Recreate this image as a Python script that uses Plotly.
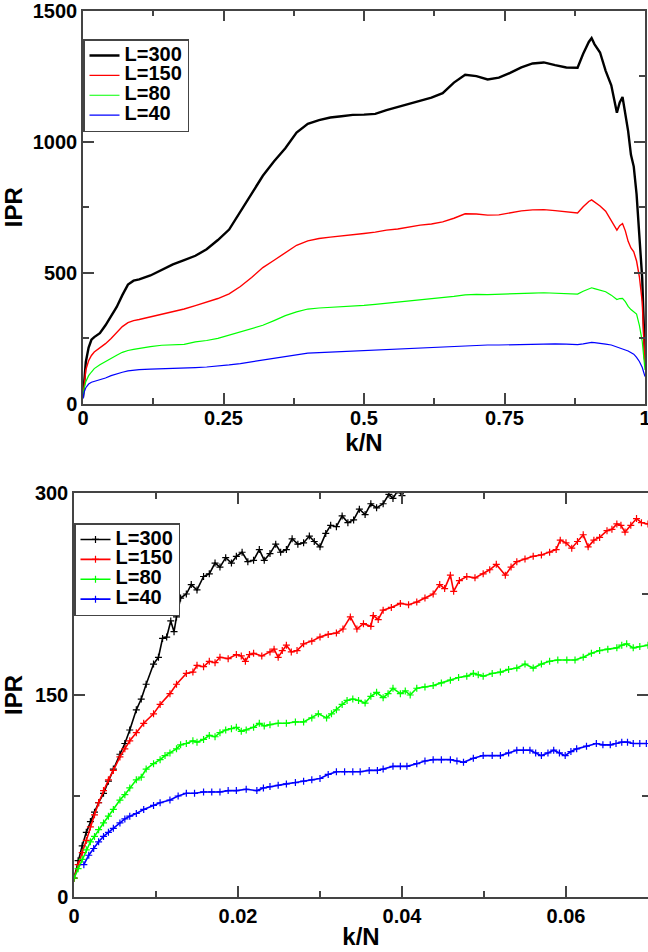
import plotly.graph_objects as go

# ---------------- full spectrum: IPR vs k/N ----------------
kn_full = [0, 0.002, 0.005, 0.01, 0.015, 0.02, 0.03, 0.04, 0.05, 0.06, 0.07, 0.08, 0.09, 0.10,
           0.12, 0.14, 0.16, 0.18, 0.20, 0.22, 0.24, 0.26, 0.28, 0.30, 0.32, 0.34, 0.36, 0.38,
           0.40, 0.42, 0.44, 0.46, 0.48, 0.50, 0.52, 0.54, 0.56, 0.58, 0.60, 0.62, 0.64, 0.66,
           0.68, 0.70, 0.72, 0.74, 0.76, 0.78, 0.80, 0.82, 0.84, 0.86, 0.88, 0.89, 0.90, 0.905,
           0.91, 0.92, 0.93, 0.94, 0.95, 0.955, 0.96, 0.965, 0.97, 0.975, 0.98, 0.985, 0.99,
           0.995, 1.0]

ipr_L300 = [25, 90, 160, 215, 245, 255, 270, 300, 335, 370, 415, 455, 470, 475,
            490, 512, 532, 548, 565, 590, 625, 665, 735, 805, 870, 925, 975, 1035,
            1068, 1082, 1092, 1097, 1102, 1103, 1106, 1120, 1132, 1145, 1158, 1168, 1185, 1225,
            1255, 1250, 1237, 1244, 1262, 1283, 1298, 1302, 1292, 1283, 1282, 1335, 1380, 1395,
            1372, 1340, 1270, 1215, 1110, 1150, 1170, 1110, 1040, 950, 905, 800, 640,
            480, 170]

ipr_L150 = [25, 80, 130, 165, 185, 198, 213, 230, 250, 272, 295, 310, 318, 322,
            332, 344, 352, 362, 375, 388, 402, 420, 448, 482, 520, 548, 578, 605,
            622, 631, 636, 640, 644, 650, 655, 663, 667, 675, 682, 686, 694, 708,
            725, 724, 720, 721, 728, 736, 740, 741, 737, 732, 728, 752, 772, 778,
            770, 755, 735, 700, 663, 680, 688, 660, 620, 595, 580, 545, 485,
            390, 150]

ipr_L80 = [25, 60, 85, 108, 122, 135, 150, 163, 176, 186, 197, 204, 208, 212,
           219, 224, 225, 227, 237, 242, 250, 262, 275, 288, 300, 318, 337, 351,
           362, 366, 368, 370, 373, 376, 380, 384, 388, 393, 397, 401, 405, 410,
           416, 418, 417, 419, 421, 422, 423, 424, 423, 421, 419, 430, 440, 443,
           440, 434, 428, 415, 398, 402, 403, 390, 372, 360, 352, 343, 300,
           240, 130]

ipr_L40 = [20, 45, 62, 76, 83, 86, 91, 99, 108, 115, 121, 126, 129, 131,
           133, 134, 135, 137, 139, 141, 144, 149, 154, 161, 168, 175, 182, 189,
           194, 196, 198, 200, 201, 203, 205, 207, 210, 212, 214, 216, 217, 219,
           223, 225, 225, 225, 226, 227, 228, 229, 229, 228, 226, 229, 233, 235,
           234, 232, 228, 225, 218, 215, 212, 206, 202, 196, 190, 178, 162,
           140, 105]

# ---------------- low-k region ----------------
kn_L300 = [0.0000, 0.0005, 0.0010, 0.0015, 0.0020, 0.0025, 0.0030, 0.0036, 0.0042, 0.0048,
           0.0056, 0.0062, 0.0068, 0.0076, 0.0082, 0.0088, 0.0097, 0.0103, 0.0108, 0.0113,
           0.0118, 0.0122, 0.0125, 0.0130, 0.0137, 0.0143, 0.0150, 0.0158, 0.0165, 0.0172,
           0.0178, 0.0185, 0.0192, 0.0198, 0.0205, 0.0212, 0.0219, 0.0226, 0.0232, 0.0239,
           0.0246, 0.0252, 0.0259, 0.0266, 0.0273, 0.0280, 0.0287, 0.0293, 0.0300, 0.0307,
           0.0313, 0.0320, 0.0327, 0.0334, 0.0341, 0.0348, 0.0355, 0.0362, 0.0369, 0.0377,
           0.0384, 0.0389, 0.0395, 0.0400, 0.0405]
low_L300 = [14, 27, 38, 48, 56, 63, 70, 77, 86, 95,
            106, 114, 124, 139, 147, 158, 173, 178, 192, 193,
            205, 197, 208, 222, 225, 232, 228, 238, 240, 248,
            245, 252, 248, 253, 256, 249, 250, 258, 250, 255,
            262, 256, 258, 266, 262, 263, 268, 264, 260, 270,
            276, 275, 283, 278, 280, 288, 284, 292, 289, 292,
            299, 296, 302, 298, 305]

kn_L150 = [0.0000, 0.0005, 0.0010, 0.0015, 0.0020, 0.0025, 0.0030, 0.0036, 0.0042, 0.0048,
           0.0056, 0.0062, 0.0068, 0.0076, 0.0085, 0.0097, 0.0105, 0.0117, 0.0125, 0.0137,
           0.0145, 0.0150, 0.0158, 0.0165, 0.0172, 0.0178, 0.0188, 0.0198, 0.0204, 0.0209,
           0.0214, 0.0219, 0.0229, 0.0239, 0.0244, 0.0249, 0.0254, 0.0259, 0.0265, 0.0272,
           0.0280, 0.0290, 0.0300, 0.0310, 0.0320, 0.0328, 0.0337, 0.0345, 0.0353, 0.0362,
           0.0365, 0.0371, 0.0377, 0.0387, 0.0398, 0.0408, 0.0418, 0.0428, 0.0438, 0.0446,
           0.0452, 0.0459, 0.0463, 0.0470, 0.0479, 0.0489, 0.0499, 0.0507, 0.0515, 0.0526,
           0.0533, 0.0540, 0.0550, 0.0560, 0.0570, 0.0580, 0.0588, 0.0593, 0.0600, 0.0607,
           0.0614, 0.0621, 0.0627, 0.0634, 0.0641, 0.0650, 0.0656, 0.0662, 0.0667, 0.0672,
           0.0679, 0.0686, 0.0692, 0.0700]
low_L150 = [14, 24, 33, 42, 52, 61, 70, 79, 87, 94,
            104, 110, 116, 122, 129, 136, 143, 151, 158, 166,
            167, 172, 171, 175, 174, 178, 177, 180, 179, 175,
            180, 181, 179, 182, 184, 178, 183, 187, 182, 183,
            188, 190, 193, 195, 196, 199, 208, 199, 203, 201,
            209, 206, 213, 215, 218, 217, 219, 222, 225, 232,
            229, 239, 227, 235, 238, 237, 240, 243, 247, 239,
            245, 249, 251, 253, 254, 256, 258, 265, 263, 259,
            264, 269, 260, 265, 267, 272, 273, 277, 276, 271,
            276, 281, 278, 277]

kn_L80 = [0.0000, 0.0005, 0.0010, 0.0015, 0.0020, 0.0025, 0.0030, 0.0036, 0.0042, 0.0048,
          0.0056, 0.0062, 0.0068, 0.0076, 0.0082, 0.0088, 0.0097, 0.0105, 0.0111, 0.0117,
          0.0125, 0.0130, 0.0137, 0.0145, 0.0150, 0.0158, 0.0165, 0.0172, 0.0178, 0.0185,
          0.0192, 0.0198, 0.0204, 0.0210, 0.0219, 0.0226, 0.0232, 0.0239, 0.0249, 0.0259,
          0.0270, 0.0280, 0.0290, 0.0298, 0.0308, 0.0314, 0.0320, 0.0327, 0.0333, 0.0340,
          0.0347, 0.0355, 0.0362, 0.0369, 0.0377, 0.0383, 0.0389, 0.0398, 0.0404, 0.0410,
          0.0418, 0.0428, 0.0438, 0.0448, 0.0459, 0.0469, 0.0479, 0.0487, 0.0493, 0.0499,
          0.0510, 0.0520, 0.0530, 0.0540, 0.0550, 0.0560, 0.0570, 0.0580, 0.0590, 0.0601,
          0.0611, 0.0621, 0.0631, 0.0641, 0.0651, 0.0662, 0.0668, 0.0674, 0.0682, 0.0690,
          0.0700]
low_L80 = [14, 21, 28, 35, 41, 45, 50, 55, 60, 65,
           72, 76, 81, 87, 89, 95, 99, 102, 105, 107,
           110, 113, 114, 116, 115, 117, 120, 119, 122, 124,
           125, 126, 123, 124, 126, 129, 127, 128, 129, 129,
           130, 130, 133, 136, 133, 136, 139, 143, 146, 147,
           146, 144, 149, 152, 148, 151, 155, 151, 153, 150,
           155, 156, 157, 159, 161, 163, 164, 166, 165, 164,
           166, 167, 169, 170, 173, 170, 173, 175, 176, 176,
           176, 178, 181, 183, 184, 185, 187, 188, 185, 186,
           187]

kn_L40 = [0.0012, 0.0018, 0.0024, 0.0030, 0.0036, 0.0042, 0.0048, 0.0056, 0.0062, 0.0068,
          0.0076, 0.0085, 0.0097, 0.0105, 0.0117, 0.0127, 0.0137, 0.0147, 0.0158, 0.0168,
          0.0178, 0.0188, 0.0198, 0.0210, 0.0223, 0.0231, 0.0239, 0.0249, 0.0259, 0.0270,
          0.0280, 0.0290, 0.0300, 0.0310, 0.0320, 0.0330, 0.0340, 0.0349, 0.0360, 0.0370,
          0.0377, 0.0389, 0.0398, 0.0406, 0.0418, 0.0428, 0.0438, 0.0448, 0.0459, 0.0467,
          0.0475, 0.0487, 0.0499, 0.0510, 0.0520, 0.0530, 0.0540, 0.0548, 0.0556, 0.0563,
          0.0570, 0.0578, 0.0585, 0.0592, 0.0599, 0.0606, 0.0613, 0.0625, 0.0637, 0.0645,
          0.0654, 0.0661, 0.0668, 0.0675, 0.0682, 0.0690, 0.0698]
low_L40 = [24, 31, 36, 41, 45, 48, 51, 55, 58, 60,
           62, 65, 68, 70, 72, 75, 77, 77, 78, 78,
           78, 79, 79, 80, 79, 81, 82, 83, 84, 85,
           86, 87, 88, 91, 93, 93, 93, 93, 94, 94,
           95, 97, 97, 97, 99, 101, 102, 102, 102, 101,
           100, 103, 105, 105, 105, 107, 109, 109, 109, 107,
           105, 107, 109, 107, 105, 108, 110, 112, 114, 113,
           113, 114, 115, 115, 114, 114, 114]

labels = ["L=300", "L=150", "L=80", "L=40"]
colors = ["#000000", "#ff0000", "#00ff00", "#0000ff"]

FONT = "Liberation Sans, Arial, Helvetica, sans-serif"
W, H = 648, 952
LEG_TEXT = 20  # rendered size of the legend entries


def legend_name(text):
    return f'<span style="font-size:{LEG_TEXT}px">{text}</span>'


fig = go.Figure()

top_series = [ipr_L300, ipr_L150, ipr_L80, ipr_L40]
top_widths = [2.4, 1.4, 1.2, 1.2]
for lab, col, ys, lw in zip(labels, colors, top_series, top_widths):
    fig.add_trace(go.Scatter(
        x=kn_full, y=ys, mode="lines", name=legend_name(lab),
        line=dict(color=col, width=lw),
        xaxis="x", yaxis="y", legend="legend",
    ))

low_x = [kn_L300, kn_L150, kn_L80, kn_L40]
low_y = [low_L300, low_L150, low_L80, low_L40]
for lab, col, xs, ys in zip(labels, colors, low_x, low_y):
    fig.add_trace(go.Scatter(
        x=xs, y=ys, mode="lines+markers", name=legend_name(lab),
        line=dict(color=col, width=1.6),
        marker=dict(symbol="cross-thin", size=5, line=dict(width=1.2, color=col)),
        xaxis="x2", yaxis="y2", legend="legend2",
    ))

AX = "#444444"


def axis(rng, dtick, minor_dtick, domain, anchor, title=None, standoff=None, label_shift=0):
    d = dict(
        range=rng, dtick=dtick, tick0=0, domain=domain, anchor=anchor,
        showline=True, linecolor=AX, linewidth=1.5, mirror="allticks",
        ticks="inside", ticklen=11, tickwidth=1.5, tickcolor=AX,
        showgrid=False, zeroline=False, automargin=False,
        ticklabeloverflow="allow", ticklabelstandoff=label_shift,
        tickfont=dict(family=FONT, size=20, color="black", weight="bold"),
        minor=dict(dtick=minor_dtick, tick0=0, ticks="inside", ticklen=6,
                   tickwidth=1.5, tickcolor=AX, showgrid=False),
    )
    if title:
        d["title"] = dict(text=title, standoff=standoff,
                          font=dict(family=FONT, size=24, color="black", weight="bold"))
    return d


top_x_dom = [83 / W, 645 / W]
top_y_dom = [(H - 404) / H, (H - 10.5) / H]
bot_x_dom = [74 / W, 1.0]
bot_y_dom = [(H - 897) / H, (H - 493) / H]

legend_style = dict(
    xanchor="left", yanchor="top", bgcolor="white",
    bordercolor=AX, borderwidth=1.5, itemwidth=30, tracegroupgap=0,
    font=dict(family=FONT, size=13, color="black", weight="bold"),
)

fig.update_layout(
    width=W, height=H,
    margin=dict(l=0, r=0, t=0, b=0),
    paper_bgcolor="white", plot_bgcolor="white",
    showlegend=True,
    xaxis=axis([0, 1], 0.25, 0.125, top_x_dom, "y", "k/N", 0, -5),
    yaxis=axis([0, 1500], 500, 250, top_y_dom, "x", "IPR", 8),
    xaxis2=axis([0, 0.07], 0.02, 0.01, bot_x_dom, "y2", "k/N", 2),
    yaxis2=axis([0, 300], 150, 75, bot_y_dom, "x2", "IPR", 12),
    legend=dict(x=83 / W, y=(H - 39) / H, **legend_style),
    legend2=dict(x=74 / W, y=(H - 523) / H, **legend_style),
)

fig.write_html("out.html")
